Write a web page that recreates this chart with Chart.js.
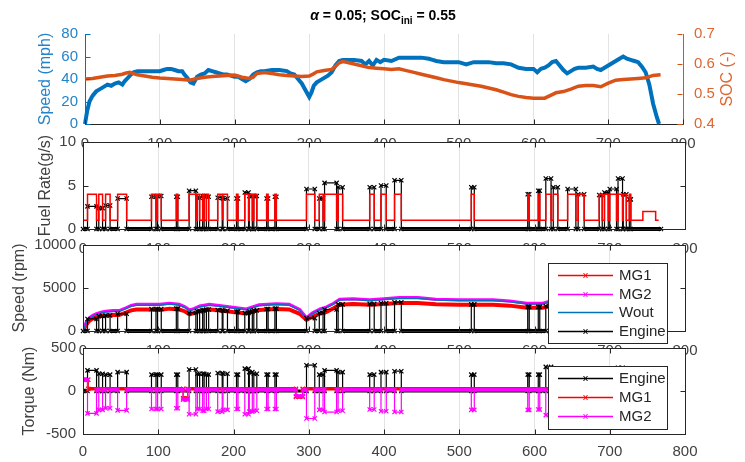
<!DOCTYPE html>
<html>
<head>
<meta charset="utf-8">
<script src="https://cdn.jsdelivr.net/npm/chart.js@4.4.0/dist/chart.umd.min.js"></script>
<style>
  body { margin: 0; background: #fff; }
  #wrap { position: relative; width: 745px; height: 462px; overflow: hidden; }
  #wrap canvas { position: absolute; left: 0; top: 0; }
  #title { position: absolute; left: 0; top: 7px; width: 766px; text-align: center; z-index: 10;
           font: bold 14px "Liberation Sans", Arial, sans-serif; color: #000; }
  #title sub { font-size: 10px; vertical-align: -4px; line-height: 0; }
</style>
</head>
<body>
<div id="wrap">
  <canvas id="c1" width="745" height="462"></canvas>
  <canvas id="c2" width="745" height="462"></canvas>
  <canvas id="c3" width="745" height="462"></canvas>
  <canvas id="c4" width="745" height="462"></canvas>
  <div id="title"><i>α</i> = 0.05; SOC<sub>ini</sub> = 0.55</div>
</div>
<script>
// vehicle speed (mph) and battery SOC
const speedT = [0, 3, 6, 10, 15, 20, 25, 30, 35, 40, 45, 50, 53, 56, 60, 65, 70, 80, 90, 100, 105, 110, 115, 120, 125, 130, 133, 137, 141, 145, 150, 155, 160, 165, 170, 175, 180, 185, 190, 195, 200, 205, 210, 215, 220, 225, 230, 235, 240, 250, 260, 270, 275, 280, 285, 290, 295, 300, 303, 306, 310, 315, 320, 325, 330, 335, 340, 345, 350, 360, 370, 375, 380, 385, 390, 395, 400, 410, 420, 430, 440, 450, 460, 465, 470, 480, 490, 500, 510, 520, 525, 530, 540, 550, 560, 570, 580, 590, 600, 605, 610, 615, 620, 625, 630, 635, 640, 645, 650, 655, 660, 670, 680, 685, 690, 695, 700, 705, 710, 715, 720, 725, 730, 735, 740, 745, 750, 755, 760, 765, 768];
const speedV = [0, 12, 20, 25, 29, 31, 33, 35, 34, 36, 37, 35, 38, 40, 43, 46, 47, 47, 47, 47, 48, 49, 49, 48, 47, 47, 44, 41, 37, 36, 42, 44, 45, 48, 47, 46, 45, 44, 44, 43, 42, 42, 40, 38, 40, 44, 46, 47, 47, 48, 48, 47, 45, 44, 40, 36, 30, 24, 28, 34, 37, 39, 41, 43, 46, 52, 56, 57, 57, 57, 56, 53, 56, 52, 57, 55, 57, 56, 59, 59, 59, 59, 58, 57, 56, 55, 55, 55, 53, 55, 55, 55, 55, 54, 54, 53, 50, 49, 49, 46, 49, 50, 52, 55, 56, 52, 48, 45, 47, 49, 50, 50, 51, 49, 48, 50, 52, 54, 56, 58, 60, 58, 57, 56, 55, 51, 46, 35, 18, 6, 0];
const socT = [0, 10, 20, 30, 40, 50, 55, 60, 65, 70, 80, 90, 100, 110, 120, 130, 140, 150, 160, 170, 180, 190, 200, 210, 220, 225, 230, 240, 250, 260, 270, 280, 290, 300, 305, 310, 320, 330, 335, 340, 345, 350, 360, 370, 380, 390, 400, 410, 420, 430, 440, 450, 460, 470, 480, 490, 500, 510, 520, 530, 540, 550, 560, 570, 580, 590, 600, 610, 615, 620, 625, 630, 640, 650, 660, 670, 680, 690, 700, 710, 720, 730, 740, 750, 760, 770];
const socV = [0.550, 0.552, 0.556, 0.560, 0.562, 0.566, 0.570, 0.572, 0.568, 0.564, 0.560, 0.556, 0.553, 0.552, 0.550, 0.548, 0.546, 0.552, 0.556, 0.558, 0.560, 0.562, 0.563, 0.556, 0.552, 0.556, 0.568, 0.572, 0.568, 0.564, 0.562, 0.560, 0.558, 0.560, 0.566, 0.574, 0.578, 0.582, 0.592, 0.604, 0.608, 0.606, 0.600, 0.594, 0.588, 0.586, 0.584, 0.582, 0.584, 0.578, 0.572, 0.566, 0.560, 0.554, 0.548, 0.543, 0.538, 0.534, 0.530, 0.526, 0.520, 0.514, 0.506, 0.498, 0.492, 0.488, 0.486, 0.486, 0.486, 0.492, 0.498, 0.504, 0.508, 0.516, 0.526, 0.528, 0.528, 0.524, 0.536, 0.546, 0.548, 0.550, 0.552, 0.554, 0.562, 0.564];

// engine on periods (s) and the values while on
const engOnStart = [6, 21, 30, 46, 91, 99, 124, 141, 152, 159, 164, 179, 186, 204, 215, 221, 227, 244, 255, 297, 314, 321, 339, 381, 396, 414, 516, 591, 605, 615, 625, 644, 658, 686, 693, 700, 711, 718, 726];
const engOnEnd   = [18, 26, 36, 58, 97, 104, 126, 150, 155, 161, 167, 185, 192, 206, 220, 225, 231, 246, 257, 308, 319, 337, 345, 387, 403, 423, 520, 593, 607, 622, 631, 655, 666, 690, 698, 709, 717, 722, 728];
const fuelOn   = [2.6, 2.4, 2.7, 3.5, 3.7, 3.8, 3.7, 4.4, 3.6, 3.8, 3.7, 3.6, 3.5, 3.5, 4.2, 3.8, 3.8, 3.5, 3.7, 4.6, 3.5, 5.3, 4.8, 4.8, 5.0, 5.6, 4.8, 4.0, 4.4, 5.8, 4.8, 4.6, 4.0, 3.9, 4.2, 4.6, 5.8, 4.0, 3.4];
const engSpdOn = [1400, 1750, 1800, 2000, 2550, 2550, 2600, 2100, 2300, 2400, 2500, 2450, 2350, 2250, 2100, 2250, 2400, 2550, 2600, 1500, 2100, 2500, 3100, 3150, 3250, 3350, 3100, 2800, 2800, 2900, 3150, 2600, 2800, 2850, 2900, 3000, 3300, 3350, 3200];
const engTqOn  = [240, 200, 190, 220, 190, 190, 190, 250, 200, 200, 190, 210, 200, 190, 260, 220, 200, 190, 190, 300, 190, 240, 220, 190, 220, 230, 190, 190, 190, 280, 230, 220, 190, 190, 200, 220, 270, 190, 180];
const mg2TqOn  = [-260, -220, -200, -225, -210, -210, -200, -270, -210, -230, -210, -240, -220, -210, -270, -240, -230, -210, -210, -320, -220, -245, -230, -215, -235, -245, -220, -220, -215, -280, -240, -230, -210, -210, -220, -240, -270, -210, -200];

// levels while the engine is off
const zeroT = [0, 768], zeroV = [0, 0];
const cmdOffT = [0, 744, 744, 761, 761, 765], cmdOffV = [1, 1, 2, 2, 1, 1];
const cmdOnLevel = 4;
const mg2TqOffT = [0, 6, 6, 133, 133, 139, 139, 283, 283, 292, 292, 768];
const mg2TqOffV = [130, 130, 15, 15, -100, -100, 15, 15, -60, -60, 15, 15];
const mg1TqT = [0, 7, 7, 133, 133, 139, 139, 283, 283, 292, 292, 768];
const mg1TqV = [130, 130, 25, 25, -85, -85, 25, 25, -70, -70, 25, 25];

// machine speeds (rpm)
const mgT = [0, 4, 8, 12, 17, 24, 30, 40, 48, 57, 64, 71, 85, 102, 115, 128, 135, 142, 148, 155, 168, 181, 199, 217, 234, 257, 274, 288, 297, 305, 315, 323, 333, 341, 359, 381, 400, 420, 445, 469, 500, 523, 545, 567, 590, 611, 630, 645, 660, 680, 700, 720, 735, 745, 752, 760, 768];
const mg1Rpm  = [0, 700, 1150, 1400, 1600, 1750, 1800, 1850, 1850, 2150, 2400, 2500, 2500, 2450, 2600, 2500, 2300, 1950, 2100, 2350, 2500, 2400, 2200, 2050, 2450, 2550, 2500, 2000, 1300, 1650, 2050, 2200, 2650, 3050, 3150, 3050, 3150, 3250, 3250, 3100, 3050, 3050, 3050, 2950, 2700, 2700, 3100, 2450, 2750, 2800, 2850, 3300, 3100, 2800, 2300, 1000, 0];
const mg2Rpm  = [0, 990, 1500, 1780, 1980, 2180, 2310, 2380, 2380, 2700, 2970, 3100, 3100, 3100, 3230, 3100, 2840, 2440, 2640, 2900, 3100, 2970, 2770, 2570, 3040, 3170, 3100, 2500, 1550, 2110, 2570, 2770, 3230, 3700, 3760, 3630, 3760, 3890, 3890, 3700, 3630, 3630, 3630, 3500, 3230, 3230, 3700, 2970, 3300, 3370, 3430, 3960, 3700, 3370, 2770, 1190, 0];
const woutRpm = [0, 900, 1400, 1680, 1880, 2080, 2210, 2280, 2280, 2600, 2870, 3000, 3000, 3000, 3130, 3000, 2740, 2340, 2540, 2800, 3000, 2870, 2670, 2470, 2940, 3070, 3000, 2400, 1450, 2010, 2470, 2670, 3130, 3600, 3660, 3530, 3660, 3790, 3790, 3600, 3530, 3530, 3530, 3400, 3130, 3130, 3600, 2870, 3200, 3270, 3330, 3860, 3600, 3270, 2670, 1090, 0];

const xTicks = [0, 100, 200, 300, 400, 500, 600, 700, 800];

const FONT = '"Liberation Sans", Arial, sans-serif';
const TXT = '#404040';
const BLUE = '#0072BD', ORANGE = '#D95319';

function pts(ts, vs) { return ts.map((t, i) => ({x: t, y: vs[i]})); }

function stepAt(ts, vs, t, strict) {
    let v = vs[0];
    ts.forEach((tt, i) => { if (strict ? tt < t : tt <= t) v = vs[i]; });
    return v;
}

// off-level series with the engine-on pulses cut in
function withPulses(offT, offV, levels) {
    const out = [];
    offT.forEach((t, i) => {
        const inside = engOnStart.some((s, k) => t >= s && t <= engOnEnd[k]);
        if (!inside) out.push({x: t, y: offV[i]});
    });
    engOnStart.forEach((s, k) => {
        const e = engOnEnd[k];
        const lv = Array.isArray(levels) ? levels[k] : levels;
        out.push({x: s, y: stepAt(offT, offV, s, true)}, {x: s, y: lv}, {x: e, y: lv}, {x: e, y: stepAt(offT, offV, e, false)});
    });
    return out.sort((a, b) => a.x - b.x);
}

function xScale(h, pad) {
    return {
        type: 'linear', min: 0, max: 800,
        afterBuildTicks: s => { s.ticks = xTicks.map(v => ({value: v})); },
        ticks: {color: TXT, font: {family: FONT, size: 15}, padding: pad, maxRotation: 0, autoSkip: false},
        grid: {drawTicks: false, color: c => (c.tick && (c.tick.value === 0 || c.tick.value === 800)) ? 'rgba(0,0,0,0)' : '#e3e3e3'},
        border: {display: true, color: '#262626'},
        afterFit: s => { s.height = h; }
    };
}

function yScale(o) {
    return {
        position: o.pos || 'left', min: o.min, max: o.max,
        ticks: {stepSize: o.step, color: o.color || TXT, font: {family: FONT, size: 15}, padding: o.pad || 7,
                callback: o.fmt || (v => v)},
        grid: {display: false, drawTicks: false},
        border: {display: true, color: o.border || '#262626'},
        title: o.title ? {display: true, text: o.title, color: o.color || TXT, font: {family: FONT, size: 16}, padding: 0} : {display: false},
        afterFit: s => { s.width = o.w; }
    };
}

function line(c, x1, y1, x2, y2) { c.beginPath(); c.moveTo(x1, y1); c.lineTo(x2, y2); c.stroke(); }

const frame = {
    id: 'frame',
    beforeDraw(chart) {
        const a = chart.chartArea, c = chart.ctx;
        c.save();
        c.fillStyle = '#fff';
        c.fillRect(a.left, a.top, a.right - a.left, a.bottom - a.top);
        c.restore();
    },
    afterDraw(chart, args, o) {
        const a = chart.chartArea, c = chart.ctx;
        const L = Math.round(a.left) + 0.5, R = Math.round(a.right) + 0.5;
        const T = Math.round(a.top) + 0.5, B = Math.round(a.bottom) + 0.5;
        c.save();
        c.lineWidth = 1;
        const xs = chart.scales.x;
        c.strokeStyle = '#262626';
        xs.ticks.forEach(t => {
            const px = Math.round(xs.getPixelForValue(t.value)) + 0.5;
            line(c, px, B, px, B - 5);
            if (o.box) line(c, px, T, px, T + 5);
        });
        const ys = chart.scales.y;
        c.strokeStyle = o.yColor || '#262626';
        ys.ticks.forEach(t => {
            const py = Math.round(ys.getPixelForValue(t.value)) + 0.5;
            line(c, L, py, L + 5, py);
            if (o.box) line(c, R, py, R - 5, py);
        });
        if (chart.scales.y2) {
            const y2 = chart.scales.y2;
            c.strokeStyle = ORANGE;
            y2.ticks.forEach(t => {
                const py = Math.round(y2.getPixelForValue(t.value)) + 0.5;
                line(c, R - 1, py, R - 6, py);
            });
        }
        if (o.box) {
            c.strokeStyle = '#262626';
            c.strokeRect(L, T, R - L, B - T);
        }
        if (o.rightTitle) {
            const rt = o.rightTitle;
            c.translate(rt.x, (a.top + a.bottom) / 2);
            c.rotate(-Math.PI / 2);
            c.fillStyle = rt.color;
            c.font = '16px ' + FONT;
            c.textAlign = 'center';
            c.textBaseline = 'middle';
            c.fillText(rt.text, 0, 0);
            c.setTransform(1, 0, 0, 1, 0, 0);
        }
        if (o.legend) {
            const lg = o.legend;
            c.fillStyle = '#fff';
            c.fillRect(lg.x, lg.y, lg.w, lg.h);
            c.strokeStyle = '#262626';
            c.strokeRect(lg.x + 0.5, lg.y + 0.5, lg.w, lg.h);
            lg.labels.forEach((lab, i) => {
                const ds = chart.data.datasets.find(d => d.label === lab);
                const y = Math.round(lg.y + lg.first + i * lg.row) + 0.5;
                c.strokeStyle = ds.borderColor;
                c.lineWidth = 1.5;
                line(c, lg.x + 10, y, lg.x + 65, y);
                if (lg.marker[i]) {
                    const mx = lg.x + 37.5;
                    c.lineWidth = 1;
                    line(c, mx - 2, y - 2.5, mx + 2, y + 2.5);
                    line(c, mx - 2, y + 2.5, mx + 2, y - 2.5);
                }
                c.fillStyle = '#262626';
                c.font = '15px ' + FONT;
                c.textAlign = 'left';
                c.textBaseline = 'middle';
                c.fillText(lab, lg.x + 71, y);
            });
        }
        c.restore();
    }
};

const base = {
    animation: false, responsive: false, events: [],
    elements: {line: {tension: 0}},
};

function thickBase(width) {
    return ctx => (ctx.p0.parsed.y === 0 && ctx.p1.parsed.y === 0) ? width : 1.2;
}
function thickFlat(width) {
    return ctx => (ctx.p0.parsed.x !== ctx.p1.parsed.x && Math.abs(ctx.p0.parsed.y) < 150 && Math.abs(ctx.p1.parsed.y) < 150) ? width : 1.2;
}

// 1: speed + SOC
new Chart(document.getElementById('c1'), {
    type: 'line',
    data: {datasets: [
        {label: 'SOC', data: pts(socT, socV), yAxisID: 'y2', borderColor: ORANGE, borderWidth: 3.5, pointRadius: 0, order: 1, clip: false},
        {label: 'Speed', data: pts(speedT, speedV), yAxisID: 'y', borderColor: BLUE, borderWidth: 4, pointRadius: 0, order: 2, clip: false}
    ]},
    options: Object.assign({}, base, {
        layout: {padding: {left: 36, right: 7, top: 34, bottom: 308}},
        scales: {
            x: xScale(30, 11),
            y: yScale({min: 0, max: 80, step: 20, w: 49, title: 'Speed (mph)', color: '#2483c9', border: BLUE}),
            y2: yScale({pos: 'right', min: 0.4, max: 0.7, step: 0.1, w: 55, pad: 11, color: '#de6630', border: ORANGE, fmt: v => v.toFixed(1)})
        },
        plugins: {legend: {display: false}, tooltip: {enabled: false},
                  frame: {box: false, yColor: BLUE, rightTitle: {text: 'SOC (-)', x: 728, color: '#de6630'}}}
    }),
    plugins: [frame]
});

// 2: fuel rate
new Chart(document.getElementById('c2'), {
    type: 'line',
    data: {datasets: [
        {label: 'Cmd', data: withPulses(cmdOffT, cmdOffV, cmdOnLevel), borderColor: '#ff0000', borderWidth: 1.5, pointRadius: 0, order: 1},
        {label: 'Fuel', data: withPulses(zeroT, zeroV, fuelOn), borderColor: '#000', pointStyle: 'crossRot', pointRadius: 3,
         pointBorderWidth: 1.2, pointBorderColor: '#000', order: 2, clip: false, segment: {borderWidth: thickBase(4)}}
    ]},
    options: Object.assign({}, base, {
        layout: {padding: {left: 36, right: 60, top: 142, bottom: 203}},
        scales: {x: xScale(30, 11), y: yScale({min: 0, max: 10, step: 5, w: 47, title: 'Fuel Rate(g/s)'})},
        plugins: {legend: {display: false}, tooltip: {enabled: false}, frame: {box: true}}
    }),
    plugins: [frame]
});

// 3: speeds (rpm)
new Chart(document.getElementById('c3'), {
    type: 'line',
    data: {datasets: [
        {label: 'MG1', data: pts(mgT, mg1Rpm), borderColor: '#ff0000', borderWidth: 4, pointRadius: 0, order: 4},
        {label: 'MG2', data: pts(mgT, mg2Rpm), borderColor: '#ff00ff', borderWidth: 3, pointRadius: 0, order: 3},
        {label: 'Wout', data: pts(mgT, woutRpm), borderColor: BLUE, borderWidth: 1.5, pointRadius: 0, order: 2},
        {label: 'Engine', data: withPulses(zeroT, zeroV, engSpdOn), borderColor: '#000', pointStyle: 'crossRot', pointRadius: 3,
         pointBorderWidth: 1.2, pointBorderColor: '#000', order: 1, clip: false, segment: {borderWidth: thickBase(4)}}
    ]},
    options: Object.assign({}, base, {
        layout: {padding: {left: 10, right: 60, top: 245, bottom: 101}},
        scales: {x: xScale(30, 11), y: yScale({min: 0, max: 10000, step: 5000, w: 73, title: 'Speed (rpm)'})},
        plugins: {legend: {display: false}, tooltip: {enabled: false},
                  frame: {box: true, legend: {x: 548, y: 263, w: 119, h: 80, first: 12, row: 18.5,
                                              labels: ['MG1', 'MG2', 'Wout', 'Engine'], marker: [true, true, false, true]}}}
    }),
    plugins: [frame]
});

// 4: torques
new Chart(document.getElementById('c4'), {
    type: 'line',
    data: {datasets: [
        {label: 'Engine', data: withPulses(zeroT, zeroV, engTqOn), borderColor: '#000', pointStyle: 'crossRot', pointRadius: 3,
         pointBorderWidth: 1.2, pointBorderColor: '#000', order: 3, segment: {borderWidth: thickBase(3)}},
        {label: 'MG1', data: pts(mg1TqT, mg1TqV), borderColor: '#ff0000', pointStyle: 'crossRot', pointRadius: 3,
         pointBorderWidth: 1.2, pointBorderColor: '#ff0000', order: 2, segment: {borderWidth: thickFlat(3.5)}},
        {label: 'MG2', data: withPulses(mg2TqOffT, mg2TqOffV, mg2TqOn), borderColor: '#ff00ff', pointStyle: 'crossRot', pointRadius: 3,
         pointBorderWidth: 1.2, pointBorderColor: '#ff00ff', order: 1, segment: {borderWidth: thickFlat(4)}}
    ]},
    options: Object.assign({}, base, {
        layout: {padding: {left: 20, right: 60, top: 348, bottom: 2}},
        scales: {x: xScale(26, 9), y: yScale({min: -500, max: 500, step: 500, w: 63, title: 'Torque (Nm)'})},
        plugins: {legend: {display: false}, tooltip: {enabled: false},
                  frame: {box: true, legend: {x: 548, y: 366, w: 119, h: 63, first: 12.3, row: 18.6,
                                              labels: ['Engine', 'MG1', 'MG2'], marker: [true, true, true]}}}
    }),
    plugins: [frame]
});
</script>
</body>
</html>
